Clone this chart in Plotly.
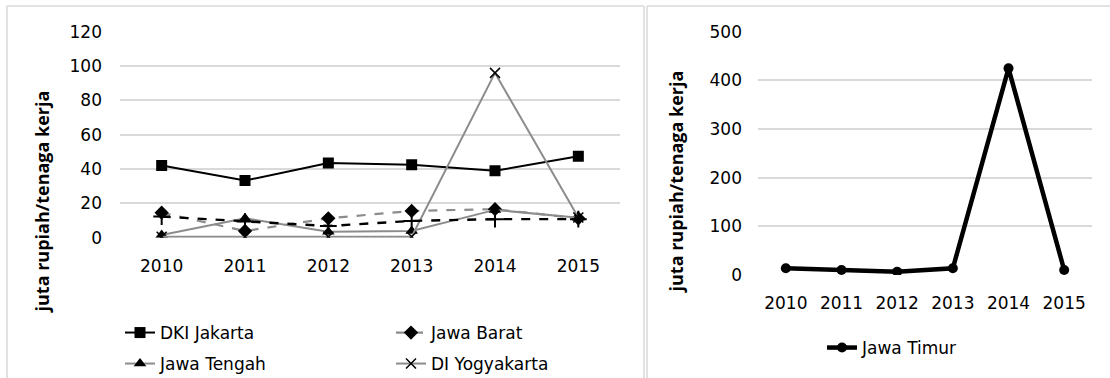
import plotly.graph_objects as go

years = ["2010", "2011", "2012", "2013", "2014", "2015"]

dki_jakarta = [42.1, 33.3, 43.5, 42.5, 39.0, 47.4]
jawa_barat = [14.6, 3.9, 11.3, 15.6, 16.6, 11.3]
jawa_tengah = [1.6, 11.3, 3.5, 3.9, 16.2, 11.6]
di_yogyakarta = [0.6, 0.6, 0.6, 0.6, 96.0, 11.8]
banten = [12.3, 9.4, 6.8, 9.8, 10.8, 10.8]
jawa_timur = [13.7, 10.3, 6.8, 13.7, 424.7, 10.3]

left_ticks = [0, 20, 40, 60, 80, 100, 120]
right_ticks = [0, 100, 200, 300, 400, 500]

W, H = 1110, 378
FONT = "DejaVu Sans"
TITLE_FONT = "Open Sans"
BLACK = "#000000"
GREY = "#8c8c8c"
GRID = "#d9d9d9"


def px_x(v):
    return v / W


def px_y(v):
    return 1 - v / H


fig = go.Figure()

# left panel series
fig.add_trace(go.Scatter(
    x=years, y=dki_jakarta, name="DKI Jakarta", mode="lines+markers",
    line=dict(color=BLACK, width=2),
    marker=dict(symbol="square", size=11, color=BLACK),
    xaxis="x", yaxis="y", legend="legend"))
fig.add_trace(go.Scatter(
    x=years, y=jawa_barat, name="Jawa Barat", mode="lines+markers",
    line=dict(color=GREY, width=2.2, dash="dash"),
    marker=dict(symbol="diamond", size=11, color=BLACK),
    xaxis="x", yaxis="y", legend="legend"))
fig.add_trace(go.Scatter(
    x=years, y=jawa_tengah, name="Jawa Tengah", mode="lines+markers",
    line=dict(color=GREY, width=2),
    marker=dict(symbol="triangle-up", size=11, color=BLACK),
    xaxis="x", yaxis="y", legend="legend2"))
fig.add_trace(go.Scatter(
    x=years, y=di_yogyakarta, name="DI Yogyakarta", mode="lines+markers",
    line=dict(color=GREY, width=2),
    marker=dict(symbol="x-thin-open", size=10, color=BLACK,
                line=dict(color=BLACK, width=1.5)),
    xaxis="x", yaxis="y", legend="legend2"))
fig.add_trace(go.Scatter(
    x=years, y=banten, name="Banten", mode="lines+markers",
    line=dict(color=BLACK, width=2.4, dash="dash"),
    marker=dict(symbol="cross-thin-open", size=12, color=BLACK,
                line=dict(color=BLACK, width=2)),
    xaxis="x", yaxis="y", showlegend=False))

# right panel series
fig.add_trace(go.Scatter(
    x=years, y=jawa_timur, name="Jawa Timur", mode="lines+markers",
    line=dict(color=BLACK, width=4.5),
    marker=dict(symbol="circle", size=10, color=BLACK),
    xaxis="x2", yaxis="y2", legend="legend3"))

axis_font = dict(family=FONT, size=17, color="#000000")

common_x = dict(type="category", range=[-0.5, 5.5], showgrid=False,
                showline=False, zeroline=False, ticks="",
                tickfont=axis_font, fixedrange=True)
common_y = dict(showgrid=True, gridcolor=GRID, gridwidth=1.5,
                zeroline=False, showline=False, ticks="",
                tickfont=axis_font, fixedrange=True)

legend_common = dict(orientation="h", font=dict(family=FONT, size=17, color="#000000"),
                     bgcolor="rgba(0,0,0,0)", xanchor="left", yanchor="middle",
                     entrywidth=226, entrywidthmode="pixels", tracegroupgap=0)

fig.update_layout(
    width=W, height=H,
    margin=dict(l=0, r=0, t=0, b=0, autoexpand=False),
    paper_bgcolor="white", plot_bgcolor="white",
    font=dict(family=FONT, color="#000000"),
    xaxis=dict(common_x, domain=[px_x(120), px_x(620)], anchor="y",
               ticklabelstandoff=16),
    yaxis=dict(common_y, domain=[px_y(237.7), px_y(31.7)], anchor="x",
               range=[0, 120], tickvals=left_ticks, ticklabelstandoff=17),
    xaxis2=dict(common_x, domain=[px_x(758), px_x(1092)], anchor="y2",
                ticklabelstandoff=16),
    yaxis2=dict(common_y, domain=[px_y(275), px_y(31.7)], anchor="x2",
                range=[0, 500], tickvals=right_ticks, ticklabelstandoff=15),
    legend=dict(legend_common, x=px_x(120), y=px_y(333)),
    legend2=dict(legend_common, x=px_x(120), y=px_y(364)),
    legend3=dict(legend_common, x=px_x(822), y=px_y(348)),
    showlegend=True,
)

# rotated axis titles
for cx, cy in [(41.5, 202), (675, 182.5)]:
    fig.add_annotation(
        text="<b>juta rupiah/tenaga kerja</b>", textangle=-90,
        x=px_x(cx), y=px_y(cy), xref="paper", yref="paper",
        xanchor="center", yanchor="middle", showarrow=False,
        font=dict(family=TITLE_FONT, size=18, color="#000000"))

# chart frames
frame = dict(type="line", xref="paper", yref="paper",
             line=dict(color="#d9d9d9", width=1.5))
fig.add_shape(frame, x0=px_x(7), x1=px_x(644), y0=px_y(6), y1=px_y(6))
fig.add_shape(frame, x0=px_x(647), x1=1, y0=px_y(6), y1=px_y(6))
fig.add_shape(frame, x0=px_x(7), x1=px_x(7), y0=px_y(6), y1=0)
fig.add_shape(frame, x0=px_x(644), x1=px_x(644), y0=px_y(6), y1=0)
fig.add_shape(frame, x0=px_x(647), x1=px_x(647), y0=px_y(6), y1=0)

fig.write_html("out.html", config=dict(displayModeBar=False))
